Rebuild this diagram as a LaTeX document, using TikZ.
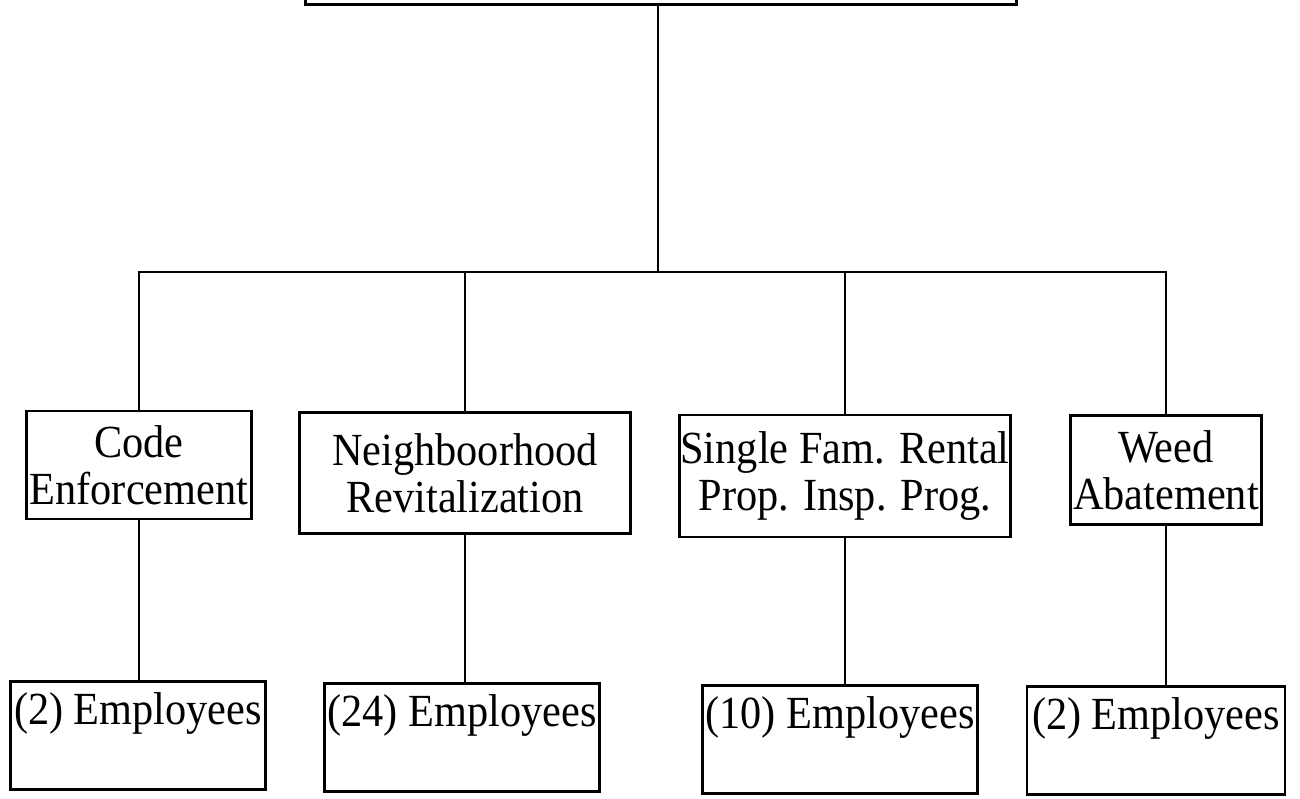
\documentclass[tikz,border=0pt]{standalone}
\usepackage{fontspec}
\setmainfont{Liberation Serif}[FakeStretch=0.92]
\tikzset{
    orgbox/.style={draw, line width=2.6pt, inner sep=0pt, font=\fontsize{46}{47}\selectfont},
    midbox/.style={orgbox, align=center},
    empbox/.style={orgbox, anchor=north, text height=43pt, text depth=65pt},
    link/.style={line width=2.6pt}
}

\begin{document}
\begin{tikzpicture}[x=1pt,y=-1pt]
        \fill[white] (0,0) rectangle (1300,799);
        \useasboundingbox (0,0) rectangle (1300,799);
        % head box, mostly above the page
        \node[orgbox, minimum width=711, minimum height=150, anchor=south] (top) at (661,6) {};
        \coordinate (bar) at (658,272);
        \foreach \n/\x/\my/\mw/\mh/\ex/\ey/\ew/\ttl/\cnt in {
            1/139/465/225/108/138/680/255/{Code\\Enforcement}/2,
            2/465/473/331/121/462/682/275/{Neighboorhood\\Revitalization}/24,
            3/845/476/331/122/840/684/275/{Single Fam. Rental\\Prop. Insp. Prog.}/10,
            4/1166/470/191/109/1156/685/258/{Weed\\Abatement}/2}{
            \node[midbox, minimum width=\mw, minimum height=\mh] (mid\n) at (\x,\my) {\ttl};
            \node[empbox, minimum width=\ew] (emp\n) at (\ex,\ey) {(\cnt) Employees};
            \draw[link] (mid\n.south) -- (mid\n.south |- emp\n.north);
        }
        \draw[link] (top.south -| bar) -- (bar);
        \draw[link] (mid1.north) |- (bar) -| (mid4.north);
        \draw[link] (mid2.north) -- (mid2.north |- bar);
        \draw[link] (mid3.north) -- (mid3.north |- bar);
    \end{tikzpicture}
\end{document}
